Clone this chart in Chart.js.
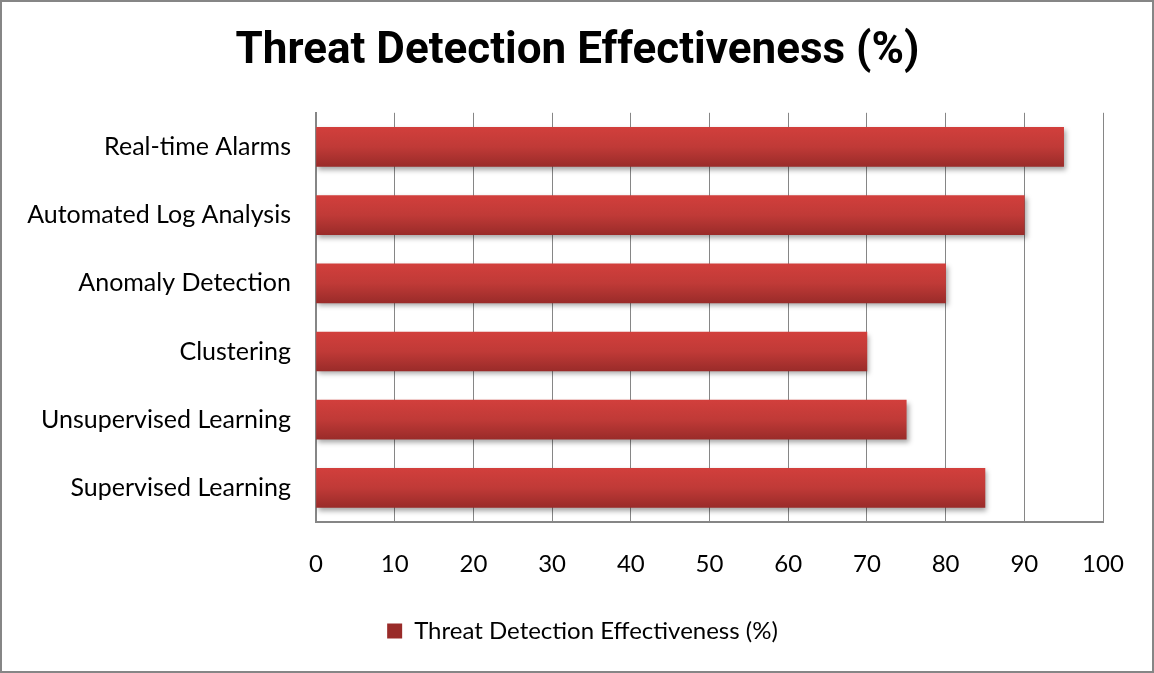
<!DOCTYPE html>
<html>
<head>
<meta charset="utf-8">
<title>Threat Detection Effectiveness (%)</title>
<script src="https://cdn.jsdelivr.net/npm/chart.js@4/dist/chart.umd.min.js"></script>
<style>
  body { margin: 0; background: #fff; }
  canvas { display: block; }
</style>
</head>
<body>
<canvas id="myChart" width="1154" height="673"></canvas>
<script>
// data, top to bottom as in the picture
var categories = ['Real-time Alarms', 'Automated Log Analysis', 'Anomaly Detection', 'Clustering', 'Unsupervised Learning', 'Supervised Learning'];
var effectiveness = [95, 90, 80, 70, 75, 85];
var seriesName = 'Threat Detection Effectiveness (%)';
var xTicks = [0, 10, 20, 30, 40, 50, 60, 70, 80, 90, 100];

var gridGrey = '#868686';
var labelFont = 'Lato, sans-serif';

function barFill(context) {
  var chart = context.chart;
  if (!chart.chartArea || context.type !== 'data') {
    return '#bf3835';
  }
  var yc = chart.scales.y.getPixelForValue(context.dataIndex);
  var g = chart.ctx.createLinearGradient(0, yc - 20, 0, yc + 20);
  g.addColorStop(0, '#d23f3c');
  g.addColorStop(0.5, '#c03a37');
  g.addColorStop(1, '#992b29');
  return g;
}

var barShadow = {
  id: 'barShadow',
  beforeDatasetsDraw: function(chart) {
    var c = chart.ctx;
    c.save();
    c.shadowColor = 'rgba(0,0,0,0.35)';
    c.shadowBlur = 5;
    c.shadowOffsetX = 2;
    c.shadowOffsetY = 3;
  },
  afterDatasetsDraw: function(chart) {
    chart.ctx.restore();
  }
};

// title is centred on the whole canvas, legend a bit right of the plot centre
var boxShift = {
  id: 'boxShift',
  afterLayout: function(chart) {
    if (chart.titleBlock) {
      chart.titleBlock.left += 26;
      chart.titleBlock.right += 26;
    }
    if (chart.legend) {
      chart.legend.left += 31;
      chart.legend.right += 31;
    }
  }
};

var outerBorder = {
  id: 'outerBorder',
  afterDraw: function(chart) {
    var c = chart.ctx;
    c.save();
    c.strokeStyle = gridGrey;
    c.lineWidth = 2;
    c.strokeRect(1, 1, chart.width - 2, chart.height - 2);
    c.restore();
  }
};

var ctx = document.getElementById('myChart').getContext('2d');
var myChart = new Chart(ctx, {
  type: 'bar',
  data: {
    labels: categories,
    datasets: [{
      label: seriesName,
      data: effectiveness,
      backgroundColor: barFill,
      borderWidth: 0,
      barThickness: 39
    }]
  },
  options: {
    indexAxis: 'y',
    responsive: false,
    animation: false,
    layout: { padding: { left: 0, right: 51, top: 0, bottom: 20 } },
    scales: {
      x: {
        min: 0,
        max: 100,
        afterBuildTicks: function(scale) {
          scale.ticks = xTicks.map(function(v) { return { value: v }; });
        },
        afterFit: function(scale) { scale.height = 87; },
        grid: { color: gridGrey, lineWidth: 1, drawTicks: false },
        border: { color: gridGrey, width: 2 },
        ticks: {
          color: '#000',
          padding: 28,
          maxRotation: 0,
          font: { family: labelFont, size: 24 }
        }
      },
      y: {
        afterFit: function(scale) { scale.width = 316; },
        grid: { display: false, drawTicks: false },
        border: { color: gridGrey, width: 2 },
        ticks: {
          color: '#000',
          padding: 25,
          font: { family: labelFont, size: 25 }
        }
      }
    },
    plugins: {
      title: {
        display: true,
        text: seriesName,
        color: '#000',
        font: { family: 'Roboto, sans-serif', size: 44, weight: 'bold' },
        padding: { top: 26, bottom: 34 }
      },
      legend: {
        position: 'bottom',
        labels: {
          color: '#000',
          boxWidth: 15,
          boxHeight: 15,
          padding: 10,
          font: { family: labelFont, size: 24 }
        }
      },
      tooltip: { enabled: false }
    }
  },
  plugins: [barShadow, boxShift, outerBorder]
});
</script>
</body>
</html>
